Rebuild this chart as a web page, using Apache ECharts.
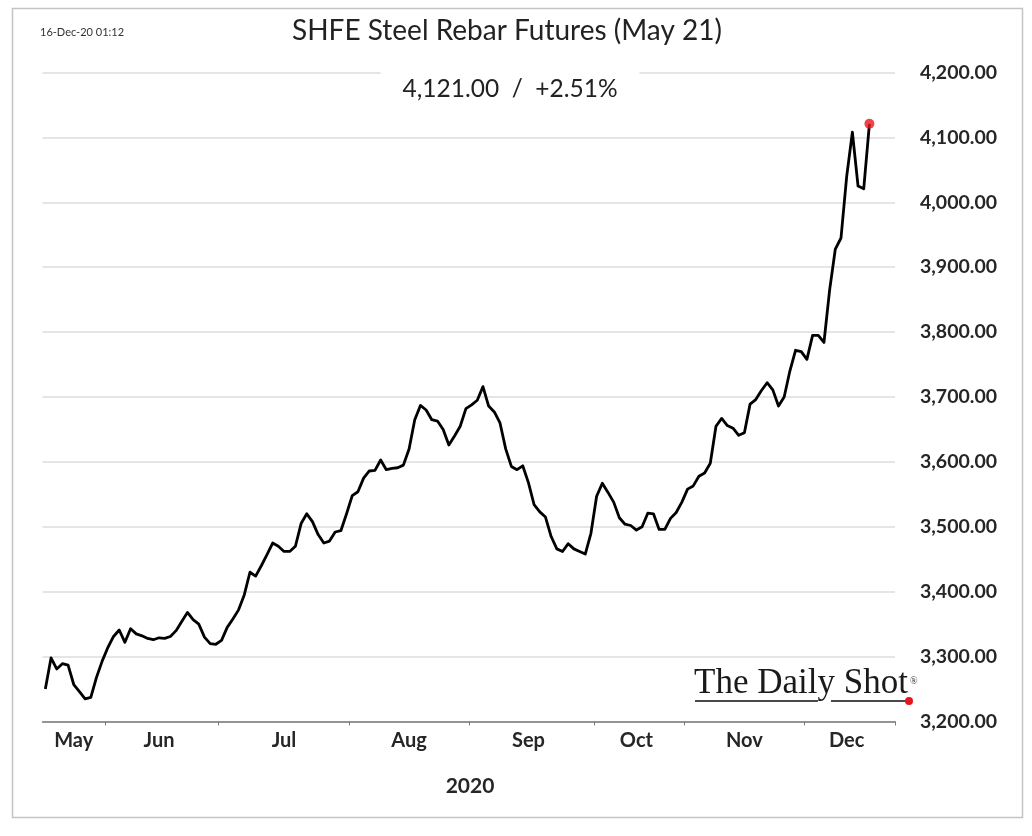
<!DOCTYPE html>
<html><head><meta charset="utf-8">
<script src="https://cdn.jsdelivr.net/npm/echarts@6/dist/echarts.min.js"></script>
<style>html,body{margin:0;padding:0;background:#fff}#chart{width:1032px;height:836px}</style>
</head><body><div id="chart"></div>
<script>
// ---- data ----
const year = 2020;
const monthNames = ['May', 'Jun', 'Jul', 'Aug', 'Sep', 'Oct', 'Nov', 'Dec'];
const monthNumbers = [5, 6, 7, 8, 9, 10, 11, 12];
// SHFE trading days shown (15-May-2020 .. 16-Dec-2020)
const tradingDays = [
  [15, 18, 19, 20, 21, 22, 25, 26, 27, 28, 29],
  [1, 2, 3, 4, 5, 8, 9, 10, 11, 12, 15, 16, 17, 18, 19, 22, 23, 24, 29, 30],
  [1, 2, 3, 6, 7, 8, 9, 10, 13, 14, 15, 16, 17, 20, 21, 22, 23, 24, 27, 28, 29, 30, 31],
  [3, 4, 5, 6, 7, 10, 11, 12, 13, 14, 17, 18, 19, 20, 21, 24, 25, 26, 27, 28, 31],
  [1, 2, 3, 4, 7, 8, 9, 10, 11, 14, 15, 16, 17, 18, 21, 22, 23, 24, 25, 28, 29, 30],
  [9, 12, 13, 14, 15, 16, 19, 20, 21, 22, 23, 26, 27, 28, 29, 30],
  [2, 3, 4, 5, 6, 9, 10, 11, 12, 13, 16, 17, 18, 19, 20, 23, 24, 25, 26, 27, 30],
  [1, 2, 3, 4, 7, 8, 9, 10, 11, 14, 15, 16]
];
const prices = [
  3250, 3298, 3281, 3289, 3287, 3257, 3246, 3235, 3237, 3268, 3293,
  3314, 3331, 3341, 3322, 3343, 3335, 3332, 3328, 3326, 3329, 3328, 3331, 3340, 3354, 3368, 3357, 3350, 3330, 3320, 3319,
  3325, 3345, 3358, 3372, 3395, 3430, 3424, 3440, 3457, 3475, 3470, 3462, 3462, 3470, 3505, 3520, 3508, 3488, 3475, 3478, 3492, 3494, 3520,
  3548, 3554, 3575, 3586, 3587, 3603, 3588, 3590, 3591, 3595, 3620, 3665, 3687, 3680, 3665, 3663, 3650, 3626, 3640, 3655, 3682,
  3688, 3695, 3716, 3686, 3677, 3660, 3620, 3593, 3588, 3594, 3568, 3534, 3523, 3515, 3485, 3466, 3462, 3474, 3466, 3462, 3458, 3490,
  3547, 3567, 3553, 3538, 3514, 3504, 3502, 3495, 3500, 3521, 3520, 3496, 3496, 3513, 3522, 3538,
  3558, 3563, 3578, 3583, 3598, 3655, 3667, 3656, 3652, 3641, 3645, 3689, 3696, 3710, 3722, 3711, 3686, 3700, 3740, 3772, 3770,
  3758, 3795, 3795, 3784, 3865, 3928, 3945, 4040, 4108, 4025, 4021, 4121
];
const yMin = 3200, yMax = 4200, yStep = 100;
const xPadDays = 4;                       // empty room right of the last session
const titleText = 'SHFE Steel Rebar Futures (May 21)';
const subtitleText = '4,121.00  /  +2.51%';
const stampText = '16-Dec-20 01:12';
const xAxisTitle = '2020';

// ---- derived ----
const pad = n => (n < 10 ? '0' : '') + n;
const categories = [];
const monthStart = [];
tradingDays.forEach((days, m) => {
  monthStart.push(categories.length);
  days.forEach(d => categories.push(year + '-' + pad(monthNumbers[m]) + '-' + pad(d)));
});
const axisMax = categories.length - 1 + xPadDays;
const bandEnd = axisMax + 1;
const tickSet = new Set(monthStart.filter(i => i > 0));
const labelAt = {};
monthStart.forEach((s, m) => {
  const e = m + 1 < monthStart.length ? monthStart[m + 1] : bandEnd;
  labelAt[Math.floor((s + e) / 2 - 0.5)] = monthNames[m];
});
const fmt = v => Number(v).toLocaleString('en-US', {minimumFractionDigits: 2, maximumFractionDigits: 2});
const lastIdx = prices.length - 1;

const chart = echarts.init(document.getElementById('chart'), null, {renderer: 'canvas'});
chart.setOption({
  animation: false,
  backgroundColor: '#fff',
  grid: {left: 42.5, right: 137, top: 72.5, bottom: 114.5, containLabel: false, outerBoundsMode: 'none'},
  xAxis: {
    type: 'category',
    data: categories,
    boundaryGap: true,
    max: axisMax,
    axisLine: {show: true, lineStyle: {color: '#7a7a7a', width: 1.5}},
    axisTick: {show: true, length: 4, interval: (i) => tickSet.has(i), lineStyle: {color: '#7a7a7a', width: 1}},
    axisLabel: {
      interval: (i) => labelAt[i] !== undefined,
      formatter: (v, i) => labelAt[i] || '',
      margin: 9,
      color: '#262626',
      fontFamily: 'Lato',
      fontWeight: 'bold',
      fontSize: 20
    },
    splitLine: {show: false}
  },
  yAxis: {
    type: 'value',
    position: 'right',
    min: yMin, max: yMax, interval: yStep,
    axisLine: {show: false},
    axisTick: {show: false},
    axisLabel: {formatter: fmt, margin: 25, color: '#262626', fontFamily: 'Lato', fontWeight: 'bold', fontSize: 19.5},
    splitLine: {show: true, lineStyle: {color: '#dcdcdc', width: 1.5}}
  },
  series: [
    {
      type: 'line',
      data: prices,
      symbol: 'none',
      lineStyle: {color: '#000', width: 2.8, join: 'round'},
      z: 3
    },
    {
      type: 'scatter',
      data: [[categories[lastIdx], prices[lastIdx]]],
      symbol: 'circle',
      symbolSize: 10,
      itemStyle: {color: '#e8161c'},
      z: 4
    }
  ],
  graphic: [
    {type: 'rect', z: 0, silent: true, shape: {x: 12.5, y: 8.5, width: 1010, height: 809}, style: {fill: 'none', stroke: '#c4c4c4', lineWidth: 1.5}},
    {type: 'text', z: 100, x: 40, y: 32, style: {text: stampText, font: '11px Lato', fill: '#333', textAlign: 'left', textVerticalAlign: 'middle'}},
    {type: 'text', z: 100, x: 507, y: 31, style: {text: titleText, font: '28px Lato', fill: '#222', textAlign: 'center', textVerticalAlign: 'middle'}},
    {type: 'text', z: 100, x: 510, y: 89, style: {text: subtitleText, font: '24.5px Lato', fill: '#222', textAlign: 'center', textVerticalAlign: 'middle', backgroundColor: '#fff', padding: [6, 22]}},
    {type: 'text', z: 100, x: 470, y: 786, style: {text: xAxisTitle, font: 'bold 21px Lato', fill: '#262626', textAlign: 'center', textVerticalAlign: 'middle'}},
    {type: 'text', z: 100, x: 694, y: 684, style: {text: 'The Daily Shot', font: '35px "Liberation Serif"', fill: '#1a1a1a', textAlign: 'left', textVerticalAlign: 'middle'}},
    {type: 'text', z: 100, x: 910, y: 681, style: {text: '®', font: '10px "Liberation Serif"', fill: '#333', textAlign: 'left', textVerticalAlign: 'middle'}},
    {type: 'line', z: 100, shape: {x1: 695, y1: 701, x2: 818, y2: 701}, style: {stroke: '#4a4a4a', lineWidth: 2}},
    {type: 'line', z: 100, shape: {x1: 831, y1: 701, x2: 907, y2: 701}, style: {stroke: '#4a4a4a', lineWidth: 2}},
    {type: 'circle', z: 100, shape: {cx: 909, cy: 701, r: 4}, style: {fill: '#e8161c'}}
  ]
});
</script>
</body></html>
